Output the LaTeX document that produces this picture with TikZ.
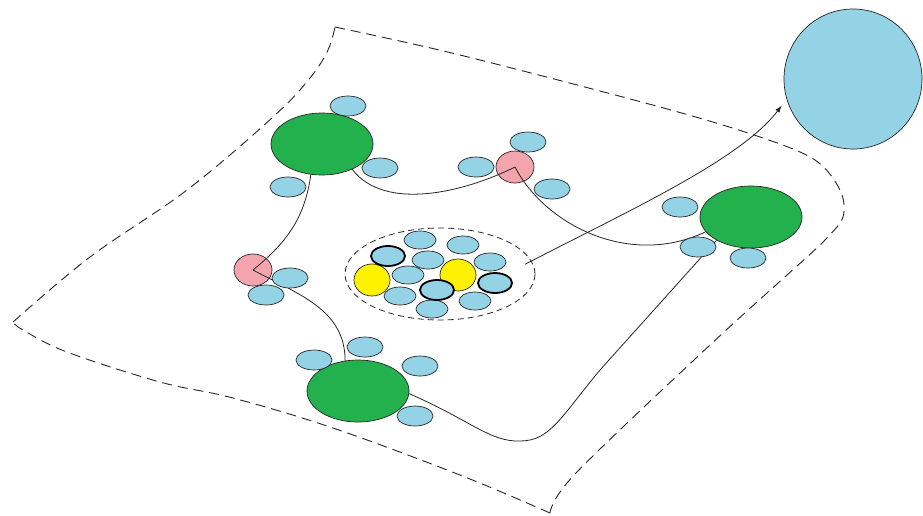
\documentclass[tikz,border=0pt]{standalone}
\usetikzlibrary{arrows.meta,shapes.geometric}

\definecolor{cellblue}{RGB}{148,210,230}
\definecolor{hubgreen}{RGB}{34,177,76}
\definecolor{relaypink}{RGB}{244,164,172}
\definecolor{seedyellow}{RGB}{255,242,0}

\pgfdeclarelayer{paper}
\pgfdeclarelayer{pinklayer}
\pgfdeclarelayer{linklayer}
\pgfsetlayers{paper,pinklayer,linklayer,main}

\begin{document}
\begin{tikzpicture}[x=1pt,y=-1pt,
  blob/.style={ellipse, inner sep=0pt, draw=black!85, line width=0.7pt},
  sat/.style={blob, fill=cellblue, minimum width=36pt, minimum height=20pt},
  hub/.style={blob, fill=hubgreen, minimum width=102pt, minimum height=62pt},
  relay/.style={blob, fill=relaypink, minimum width=38pt, minimum height=32pt},
  core/.style={blob, fill=cellblue, minimum width=32pt, minimum height=18pt},
  corebold/.style={core, line width=1.8pt, draw=black, minimum width=34pt, minimum height=20pt},
  seed/.style={blob, fill=seedyellow, minimum width=36pt, minimum height=32pt},
  sheet/.style={draw=black!85, line width=0.9pt, dash pattern=on 10pt off 6pt},
  link/.style={draw=black!85, line width=0.8pt},
]
\useasboundingbox (0,0) rectangle (923,515);
\begin{pgfonlayer}{paper}
\fill[white] (0,0) rectangle (923,515);
\end{pgfonlayer}

% the dashed sheet
\draw[sheet] plot[smooth, tension=0.55] coordinates {(335,27) (460,55) (660,107) (760,137) (815,160) (840,190) (843,217) (825,240) (807,257) (710,345) (575,474) (550,513)};
\draw[sheet] plot[smooth, tension=0.6] coordinates {(550,513) (460,475) (333,428) (233,398) (160,382) (67,352) (23,330) (13,322)};
\draw[sheet] plot[smooth, tension=0.6] coordinates {(13,322) (90,257) (187,190) (273,117) (310,78) (328,50) (335,27)};

% large target cell
\node[blob, fill=cellblue, minimum width=138pt, minimum height=140pt] (B) at (853,79) {};

% hubs
\node[hub] (G1) at (322,144) {};
\node[hub] (G2) at (751,217) {};
\node[hub] (G3) at (358,391) {};

% relays (below the links)
\begin{pgfonlayer}{pinklayer}
\node[relay] (P1) at (515,167) {};
\node[relay] (P2) at (253,270) {};
\end{pgfonlayer}

% satellites
\node[sat] (s11) at (348,106) {};
\node[sat] (s12) at (380,168) {};
\node[sat] (s13) at (288,187) {};
\node[sat] (s21) at (528,142) {};
\node[sat] (s22) at (476,167) {};
\node[sat] (s23) at (552,189) {};
\node[sat] (s31) at (680,207) {};
\node[sat] (s32) at (698,247) {};
\node[sat] (s33) at (748,258) {};
\node[sat] (s41) at (365,347) {};
\node[sat] (s42) at (314,360) {};
\node[sat] (s43) at (420,366) {};
\node[sat] (s44) at (415,416) {};
\node[sat] (s51) at (290,278) {};
\node[sat] (s52) at (266,295) {};

% central cluster
\node[ellipse, draw=black!85, line width=0.8pt, dash pattern=on 6pt off 4pt,
      minimum width=190pt, minimum height=92pt] (C) at (440,274) {};
\node[seed] (y1) at (372,280) {};
\node[seed] (y2) at (458,275) {};
\node[core] (c1) at (420,240) {};
\node[core] (c2) at (463,245) {};
\node[core] (c3) at (428,260) {};
\node[core] (c4) at (490,262) {};
\node[core] (c5) at (408,275) {};
\node[core] (c6) at (400,296) {};
\node[core] (c7) at (475,301) {};
\node[core] (c8) at (432,309) {};
\node[corebold] (b1) at (388,256) {};
\node[corebold] (b2) at (437,290) {};
\node[corebold] (b3) at (495,283) {};

% links
\begin{pgfonlayer}{linklayer}
\draw[link] (G1.-40) .. controls (385,212) and (465,192) .. (P1.center);
\draw[link] (P1.center) .. controls (545,225) and (630,268) .. (G2.198);
\draw[link] (G1.250) .. controls (305,215) and (290,240) .. (P2.center);
\draw[link] (P2.center) .. controls (300,295) and (345,310) .. (G3.113);
\draw[link] (G3.-3) .. controls (470,420) and (490,442) .. (520,441)
            .. controls (550,441) and (560,418) .. (600,370) -- (G2.214);
\draw[link, -{Latex[length=7pt,width=5pt]}, shorten >=8pt]
      ([xshift=-8pt]C.6) .. controls (630,210) and (740,160) .. (B.197);
\end{pgfonlayer}
\end{tikzpicture}
\end{document}
